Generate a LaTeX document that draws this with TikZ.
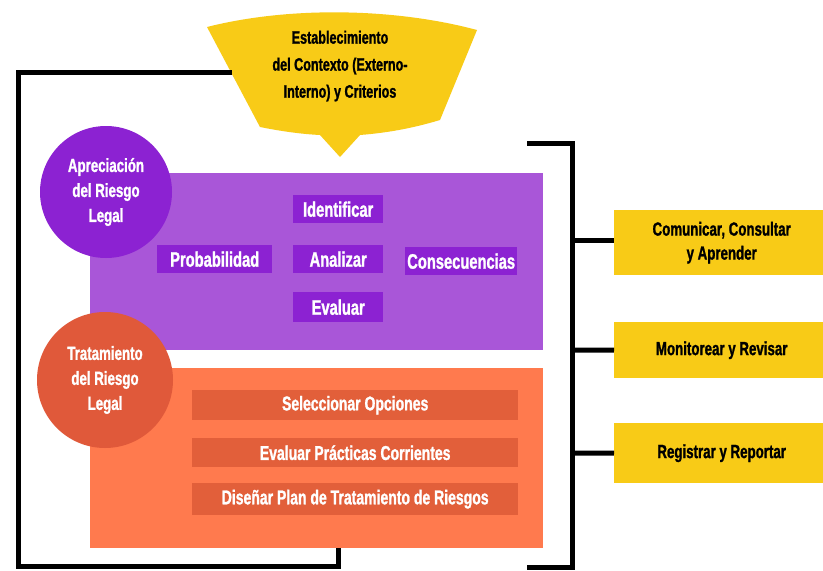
\documentclass[tikz,border=0pt]{standalone}
\usepackage{fontspec}
\newfontfamily\cond[FakeStretch=0.7, BoldFeatures={FakeStretch=0.7,FakeBold=1.2}]{Liberation Sans}
\definecolor{ylw}{HTML}{F8CB17}
\definecolor{purRect}{HTML}{A956D8}
\definecolor{purDark}{HTML}{8C22D2}
\definecolor{orRect}{HTML}{FF7A4E}
\definecolor{orDark}{HTML}{E0593A}
\definecolor{orBar}{HTML}{E25F3A}
\tikzset{
  blk/.style={line width=5pt, black},
  pbox/.style={fill=purDark, text=white, font=\cond\bfseries\fontsize{21}{22}\selectfont, inner sep=0pt, anchor=north west},
  obar/.style={fill=orBar, text=white, font=\cond\bfseries\fontsize{20}{22}\selectfont, inner sep=0pt, anchor=north west},
  ybox/.style={fill=ylw, text=black, font=\cond\bfseries\fontsize{19}{24}\selectfont, inner sep=0pt, anchor=north west, align=center},
  circtxt/.style={text=white, font=\cond\bfseries\fontsize{19}{25}\selectfont, align=center},
}
\begin{document}
\begin{tikzpicture}[x=1pt,y=-1pt]
\useasboundingbox (0,0) rectangle (823,571);
\fill[white] (0,0) rectangle (823,571);
% main rectangles
\node[fill=purRect, minimum width=453pt, minimum height=177pt, inner sep=0pt, anchor=north west] (apr) at (90,173) {};
\node[fill=orRect, minimum width=453pt, minimum height=180pt, inner sep=0pt, anchor=north west] (trt) at (90,368) {};
% purple boxes
\node[pbox, minimum width=90pt, minimum height=28pt] (ide) at (293,195) {Identificar};
\node[pbox, minimum width=115pt, minimum height=28pt] (pro) at (157,245) {Probabilidad};
\node[pbox, minimum width=90pt, minimum height=28pt] (ana) at (293,245) {Analizar};
\node[pbox, minimum width=112pt, minimum height=28pt] (con) at (405,247) {Consecuencias};
\node[pbox, minimum width=90pt, minimum height=30pt] (eva) at (293,292) {Evaluar};
% orange bars
\node[obar, minimum width=326pt, minimum height=30pt] (sel) at (192,390) {Seleccionar Opciones};
\node[obar, minimum width=326pt, minimum height=29pt] (evp) at (192,438) {Evaluar Prácticas Corrientes};
\node[obar, minimum width=326pt, minimum height=32pt] (dis) at (192,483) {Diseñar Plan de Tratamiento de Riesgos};
% circles
\node[circle, fill=purDark, minimum size=132pt, inner sep=0pt, circtxt] (capr) at (106,192) {Apreciación\\del Riesgo\\Legal};
\node[circle, fill=orDark, minimum size=136pt, inner sep=0pt, circtxt] (ctrt) at (105,380) {Tratamiento\\del Riesgo\\Legal};
% banner
\fill[ylw] (207,27) .. controls (290,6) and (395,8) .. (477,30) -- (440,120)
  .. controls (410,129) and (385,133) .. (360,135) -- (340,157) -- (320,135)
  .. controls (300,134) and (280,131) .. (260,127) -- cycle;
\node[text=black, font=\cond\bfseries\fontsize{18}{27}\selectfont, align=center] (ban) at (340,66) {Establecimiento\\del Contexto (Externo-\\Interno) y Criterios};
\coordinate (banL) at (232,72);
% yellow boxes
\node[ybox, minimum width=215pt, minimum height=65pt] (com) at (614,210) {Comunicar, Consultar\\y Aprender};
\node[ybox, minimum width=215pt, minimum height=56pt] (mon) at (614,322) {Monitorear y Revisar};
\node[ybox, minimum width=215pt, minimum height=60pt] (reg) at (614,423) {Registrar y Reportar};
% left frame
\coordinate (fTL) at (18,72);
\coordinate (fBL) at (18,566);
\coordinate (fBR) at (338,566);
\draw[blk, line cap=butt, line join=miter] (banL) -- (fTL) -- (fBL) -- (fBR) -- (fBR |- trt.south);
% right bracket
\coordinate (bTL) at (527,143);
\coordinate (bTR) at (572,143);
\coordinate (bBR) at (572,567);
\coordinate (bBL) at (527,567);
\draw[blk, line join=miter] (bTL) -- (bTR) -- (bBR) -- (bBL);
\draw[blk] (572,240) -- (com.west |- 0,240);
\draw[blk] (572,350) -- (mon.west);
\draw[blk] (572,453) -- (reg.west);
\end{tikzpicture}
\end{document}
